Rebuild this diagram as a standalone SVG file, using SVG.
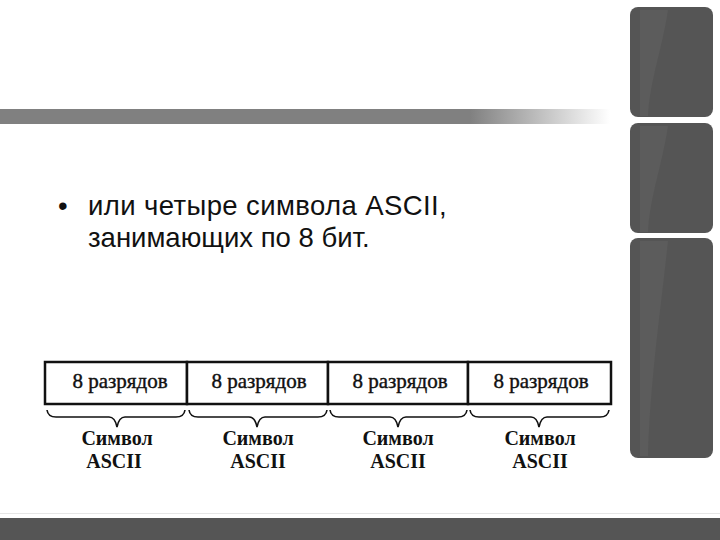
<svg xmlns="http://www.w3.org/2000/svg" width="720" height="540" viewBox="0 0 720 540">
<defs>
<linearGradient id="bar" x1="0" y1="0" x2="1" y2="0">
<stop offset="0" stop-color="#808080"/>
<stop offset="0.77" stop-color="#808080"/>
<stop offset="1" stop-color="#ffffff"/>
</linearGradient>
<style>
.panel{fill:#555555}
.streak{fill:#5c5c5c}
.bul{font-family:"Liberation Sans",Arial,sans-serif;font-size:27.5px;fill:#111}
.cell{fill:#fff;stroke:#111;stroke-width:2.5}
.bits{font-family:"Liberation Serif","Times New Roman",serif;font-size:21px;fill:#111;stroke:#111;stroke-width:0.4;text-anchor:middle}
.lab{font-family:"Liberation Serif","Times New Roman",serif;font-size:20px;font-weight:bold;fill:#111;text-anchor:middle}
.brace{fill:none;stroke:#111;stroke-width:1.6}
</style>
</defs>
<rect width="720" height="540" fill="#ffffff"/>
<rect x="0" y="109" width="610" height="15" fill="url(#bar)"/>
<g id="panels">
<rect class="panel" x="630" y="7" width="83" height="110" rx="8"/>
<path class="streak" d="M640 10 L668 10 C662 50 650 80 648 116 L640 116 Z"/>
<rect class="panel" x="630" y="123" width="83" height="110" rx="8"/>
<path class="streak" d="M640 126 L668 126 C662 166 650 196 648 232 L640 232 Z"/>
<rect class="panel" x="630" y="238" width="83" height="220" rx="8"/>
<path class="streak" d="M640 241 L668 241 C662 300 650 380 648 456 L640 456 Z"/>
</g>
<rect x="0" y="513" width="720" height="1" fill="#e6e6e6"/>
<rect x="0" y="518" width="720" height="22" fill="#555555"/>
<g id="bullet">
<text class="bul" x="58" y="215">•</text>
<text class="bul" x="88" y="215" letter-spacing="0.4">или четыре символа ASCII,</text>
<text class="bul" x="88" y="247">занимающих по 8 бит.</text>
</g>
<g id="cell1"><rect class="cell" x="45" y="362" width="142" height="42"/><text class="bits" x="120" y="388">8 разрядов</text></g>
<g id="cell2"><rect class="cell" x="187" y="362" width="141" height="42"/><text class="bits" x="259" y="388">8 разрядов</text></g>
<g id="cell3"><rect class="cell" x="328" y="362" width="140" height="42"/><text class="bits" x="400" y="388">8 разрядов</text></g>
<g id="cell4"><rect class="cell" x="468" y="362" width="143" height="42"/><text class="bits" x="541" y="388">8 разрядов</text></g>
<g id="connectors">
<path class="brace" d="M47 410 Q48 417 56 417 L109 417 Q115 417 117 427 Q119 417 125 417 L176 417 Q184 417 185 410"/>
<path class="brace" d="M189 410 Q190 417 198 417 L249 417 Q255 417 257 427 Q259 417 265 417 L318 417 Q326 417 327 410"/>
<path class="brace" d="M330 410 Q331 417 339 417 L390 417 Q396 417 398 427 Q400 417 406 417 L458 417 Q466 417 467 410"/>
<path class="brace" d="M470 410 Q471 417 479 417 L531 417 Q537 417 539 427 Q541 417 547 417 L600 417 Q608 417 609 410"/>
</g>
<g id="label1"><text class="lab" x="117" y="445">Символ</text><text class="lab" x="114" y="468">ASCII</text></g>
<g id="label2"><text class="lab" x="258" y="445">Символ</text><text class="lab" x="258" y="468">ASCII</text></g>
<g id="label3"><text class="lab" x="398" y="445">Символ</text><text class="lab" x="398" y="468">ASCII</text></g>
<g id="label4"><text class="lab" x="540" y="445">Символ</text><text class="lab" x="540" y="468">ASCII</text></g>
</svg>
